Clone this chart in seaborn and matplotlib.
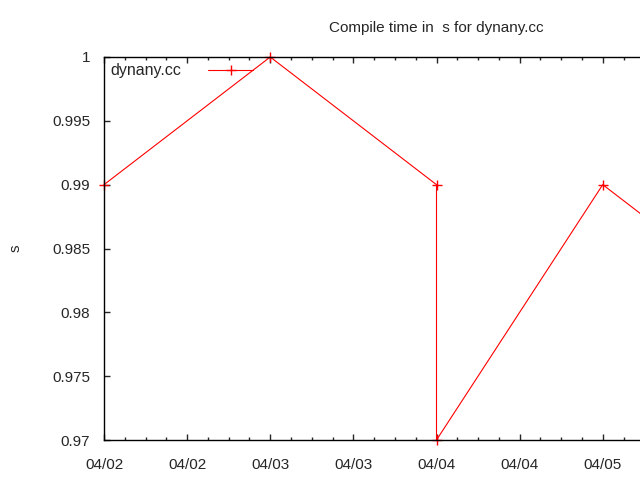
import matplotlib
matplotlib.use("Agg")
import matplotlib.dates as mdates
import matplotlib.pyplot as plt
import pandas as pd
import seaborn as sns

dates = ["2009-04-02", "2009-04-03", "2009-04-04", "2009-04-04", "2009-04-05", "2009-04-06"]
seconds = [0.99, 1.0, 0.99, 0.97, 0.99, 0.98]
series_name = "dynany.cc"

df = pd.DataFrame({"date": pd.to_datetime(dates), "s": seconds})

sns.set_style("ticks")
plt.rcParams["font.family"] = ["Liberation Sans", "DejaVu Sans"]
plt.rcParams["font.size"] = 11

fig = plt.figure(figsize=(6.4, 4.8), dpi=100)
# gnuplot output was wider than the image: the plot area runs past the right edge
ax = fig.add_axes([104 / 640, 40 / 480, 665 / 640, 383 / 480])

sns.lineplot(
    data=df, x="date", y="s", ax=ax, sort=False, estimator=None,
    color="#ff0000", linewidth=0.8, marker="+", markersize=7,
    markeredgewidth=1, markeredgecolor="#ff0000", label=series_name,
    clip_on=False,
)

x_end = pd.Timestamp("2009-04-06")
ax.set_xlim(pd.Timestamp("2009-04-02"), x_end)
ax.set_ylim(0.97, 1.0)
ax.set_yticks([0.97, 0.975, 0.98, 0.985, 0.99, 0.995, 1.0])
ax.set_yticklabels(["0.97", "0.975", "0.98", "0.985", "0.99", "0.995", "1"])

last_label = mdates.date2num(pd.Timestamp("2009-04-05 06:00"))


def fmt_date(x, pos=None):
    # labels past the image edge are not drawn
    if x > last_label:
        return ""
    return mdates.num2date(x).strftime("%m/%d")


ax.xaxis.set_major_locator(mdates.HourLocator(byhour=[0, 12]))
ax.xaxis.set_minor_locator(mdates.HourLocator(interval=3))
ax.xaxis.set_major_formatter(plt.FuncFormatter(fmt_date))

ax.tick_params(axis="x", which="major", direction="in", length=4.5, width=1,
               top=True, pad=13, labelsize=11)
ax.tick_params(axis="x", which="minor", direction="in", length=2.5, width=1, top=True)
ax.tick_params(axis="y", which="major", direction="in", length=4.5, width=1,
               right=False, pad=10, labelsize=11)
for sp in ax.spines.values():
    sp.set_linewidth(1)
    sp.set_color("black")

ax.set_xlabel("")
ax.set_ylabel("s", fontsize=11)
ax.yaxis.set_label_coords(-0.122, 0.5)
ax.set_title("Compile time in  s for dynany.cc", fontsize=11, pad=18)

ax.legend(loc="upper left", frameon=False, markerfirst=False, handlelength=2.8,
          handletextpad=1.7, borderaxespad=0.2, borderpad=0.2, fontsize=11.5)

fig.savefig("out.png", dpi=100)
